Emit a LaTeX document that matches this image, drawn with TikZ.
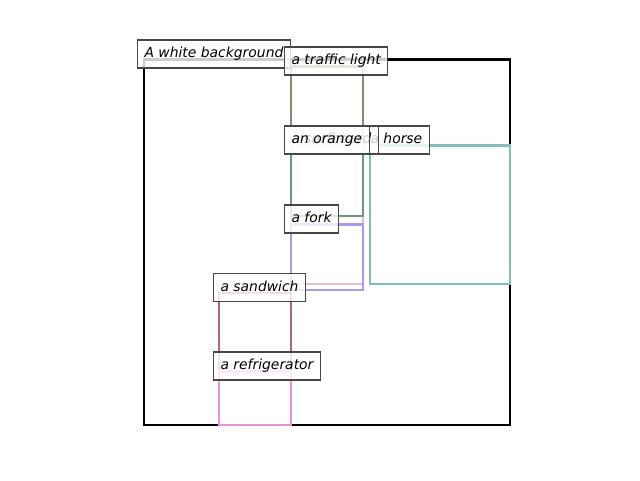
\documentclass[tikz,border=0pt]{standalone}
\usepackage{fontspec}
\setmainfont{DejaVu Sans}
\definecolor{tlcol}{RGB}{138,138,112}
\definecolor{orcol}{RGB}{108,152,122}
\definecolor{surfcol}{RGB}{236,186,202}
\definecolor{horsecol}{RGB}{130,192,182}
\definecolor{forkcol}{RGB}{172,152,238}
\definecolor{sandcol}{RGB}{176,102,140}
\definecolor{fridgecol}{RGB}{234,145,216}
\tikzset{
  objbox/.style={line width=1.8pt},
  lbl/.style={draw=black!72, line width=0.8pt, fill=white, fill opacity=0.8, text opacity=1,
    anchor=west, inner xsep=5.25pt, inner ysep=0pt, minimum height=21pt,
    text height=7.8pt, text depth=2.2pt, font=\fontsize{10.42}{12}\selectfont\itshape}
}
\begin{document}
\begin{tikzpicture}[x=0.75pt,y=-0.75pt]
\useasboundingbox (0,0) rectangle (640,480);
\fill[white] (0,0) rectangle (640,480);
% object rectangles
\draw[objbox, black, line width=2pt] (144,59.5) rectangle (510,425);
\draw[objbox, tlcol] (291,66.5) rectangle (363,145.5);
\draw[objbox, surfcol] (291,145.5) rectangle (363,284);
\draw[objbox, orcol] (291,145.5) rectangle (363,216);
\draw[objbox, horsecol] (370,145.5) rectangle (510,284);
\draw[objbox, forkcol] (291,224.5) rectangle (363,290);
\draw[objbox, sandcol] (219,293) rectangle (291,371.5);
\draw[objbox, fridgecol] (219,371.5) rectangle (291,425);
% labels
\node[lbl] (lbg) at (137,54) {A white background};
\node[lbl] (ltl) at (284,61) {a traffic light};
\node[lbl] (lhorse) at (363,140) {a horse};
\node[lbl] (lsurf) at (284,140) {a surfboard};
\node[lbl] (lor) at (284,140) {an orange};
\node[lbl] (lfork) at (284,219) {a fork};
\node[lbl] (lsand) at (213,287.5) {a sandwich};
\node[lbl] (lfridge) at (213,366) {a refrigerator};
\end{tikzpicture}
\end{document}
